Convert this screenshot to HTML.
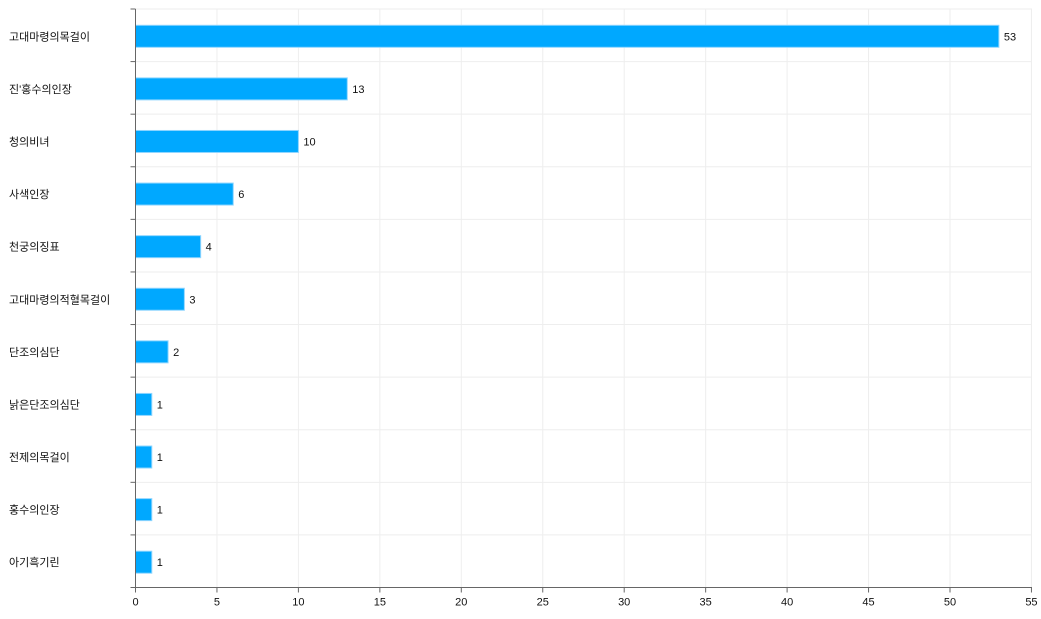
<!DOCTYPE html>
<html><head><meta charset="utf-8"><style>
body{margin:0;background:#fff;}
text{font-family:"Liberation Sans","Noto Sans CJK KR",sans-serif;font-size:11px;fill:#111;}
</style></head><body>
<svg width="1041" height="614" xmlns="http://www.w3.org/2000/svg" id="c"></svg>
<script>
const s=document.getElementById('c');
const L=135.5,T=9,B=587.5,u=16.29,rh=(B-T)/11;
const d=[["고대마령의목걸이",53],["진'홍수의인장",13],["청의비녀",10],["사색인장",6],["천궁의징표",4],["고대마령의적혈목걸이",3],["단조의심단",2],["낡은단조의심단",1],["전제의목걸이",1],["홍수의인장",1],["아기흑기린",1]];
let h='';
for(let i=0;i<=11;i++){const y=T+i*rh;h+=`<line x1="${L}" x2="1032" y1="${y}" y2="${y}" stroke="#eee"/>`;h+=`<line x1="${L-5}" x2="${L}" y1="${y}" y2="${y}" stroke="#666"/>`;}
for(let k=0;k<=55;k+=5){const x=L+k*u;h+=`<line x1="${x}" x2="${x}" y1="${T}" y2="${B}" stroke="#eee"/>`;h+=`<line x1="${x}" x2="${x}" y1="${B}" y2="${B+5}" stroke="#666"/>`;h+=`<text x="${x}" y="${B+18}" text-anchor="middle">${k}</text>`;}
d.forEach((r,i)=>{const c=T+i*rh+rh/2+1;const w=r[1]*u;
h+=`<rect x="${L}" y="${c-11}" width="${w}" height="22" fill="#00a8ff" stroke="#8fd6ff" stroke-width="1"/>`;
h+=`<text x="9" y="${c+4}">${r[0]}</text>`;
h+=`<text x="${L+w+5}" y="${c+4}">${r[1]}</text>`;});
h+=`<line x1="${L}" x2="${L}" y1="${T}" y2="${B}" stroke="#666"/><line x1="${L}" x2="1032" y1="${B}" y2="${B}" stroke="#666"/>`;
s.innerHTML=h;
</script>
</body></html>
